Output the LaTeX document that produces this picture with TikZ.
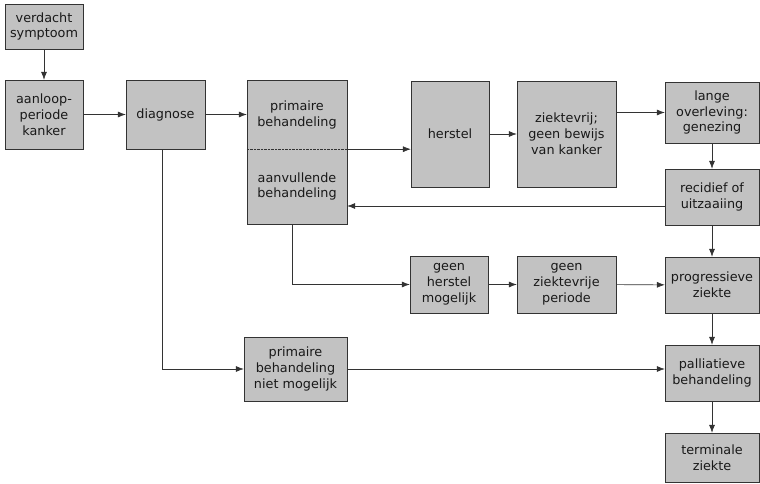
\documentclass[tikz,border=0pt]{standalone}
\usepackage{fontspec}
\setmainfont{DejaVu Sans}
\usepackage{tikz}
\usetikzlibrary{arrows.meta}

\begin{document}
\begin{tikzpicture}[
    x=1pt, y=1pt,
    box/.style={rectangle, draw=black!80, fill=black!24, align=center, inner sep=1pt, font=\fontsize{12.8}{15.8}\selectfont, text=black!90},
    halfbox/.style={rectangle, fill=black!24, align=center, inner sep=1pt, font=\fontsize{12.8}{15.8}\selectfont, text=black!90},
    arrow/.style={-{Latex[length=8pt,width=6pt]}, black!80, line width=0.6pt}
  ]
    \useasboundingbox (0,0) rectangle (760,483);

    % Left column
    \node[box, minimum width=78pt, minimum height=45pt] (symptoom) at (44,456.5) {verdacht\\symptoom};
    \node[box, minimum width=78pt, minimum height=69pt] (aanloop) at (44,368.5) {aanloop-\\periode\\kanker};
    \node[box, minimum width=79pt, minimum height=69pt] (diagnose) at (165.5,368.5) {diagnose};

    % Treatment block (two halves)
    \node[halfbox, minimum width=100pt, minimum height=68pt] (primair) at (297,368) {primaire\\behandeling};
    \node[halfbox, minimum width=100pt, minimum height=75pt] (aanvullend) at (297,296.5) {aanvullende\\behandeling};
    \draw[black!80, line width=0.6pt] (primair.north west) rectangle (aanvullend.south east);
    \draw[black!80, densely dotted] (primair.south west) -- (primair.south east);
    \node[box, minimum width=103pt, minimum height=64pt] (nietmogelijk) at (295.5,114) {primaire\\behandeling\\niet mogelijk};

    % Middle row
    \node[box, minimum width=78pt, minimum height=106pt] (herstel) at (450,349) {herstel};
    \node[box, minimum width=99pt, minimum height=106pt] (ziektevrij) at (566.5,349) {ziektevrij;\\geen bewijs\\van kanker};
    \node[box, minimum width=78pt, minimum height=57pt] (geenherstel) at (449,198.5) {geen\\herstel\\mogelijk};
    \node[box, minimum width=99pt, minimum height=57pt] (geenvrij) at (566.5,198.5) {geen\\ziektevrije\\periode};

    % Right column
    \node[box, minimum width=94pt, minimum height=61pt] (genezing) at (712,370.5) {lange\\overleving:\\genezing};
    \node[box, minimum width=94pt, minimum height=56pt] (recidief) at (712,286) {recidief of\\uitzaaiing};
    \node[box, minimum width=94pt, minimum height=56pt] (progressief) at (712,198) {progressieve\\ziekte};
    \node[box, minimum width=94pt, minimum height=56pt] (palliatief) at (712,110) {palliatieve\\behandeling};
    \node[box, minimum width=94pt, minimum height=49pt] (terminaal) at (712,25.5) {terminale\\ziekte};

    % Connections
    \draw[arrow] (symptoom) -- (aanloop);
    \draw[arrow] (aanloop) -- (diagnose);
    \draw[arrow] (diagnose) -- (primair.west |- diagnose.east);
    \draw[arrow] (primair.south east) -- (primair.south east -| herstel.west);
    \draw[arrow] (herstel) -- (ziektevrij);
    \draw[arrow] (genezing.west -| ziektevrij.east) -- (genezing.west);
    \draw[arrow] (genezing) -- (recidief);
    \draw[arrow] ([yshift=-9pt]recidief.west) -- ([yshift=-9pt]recidief.west -| aanvullend.east);
    \draw[arrow] (recidief) -- (progressief);
    \draw[arrow] ([xshift=-5pt]aanvullend.south) |- (geenherstel.west);
    \draw[arrow] (geenherstel) -- (geenvrij);
    \draw[arrow] (geenvrij) -- (progressief);
    \draw[arrow] (progressief) -- (palliatief);
    \draw[arrow] (palliatief) -- (terminaal);
    \draw[arrow] ([xshift=-3pt]diagnose.south) |- (nietmogelijk.west);
    \draw[arrow] (nietmogelijk.east) -- (nietmogelijk.east -| palliatief.west);

  \end{tikzpicture}
\end{document}
